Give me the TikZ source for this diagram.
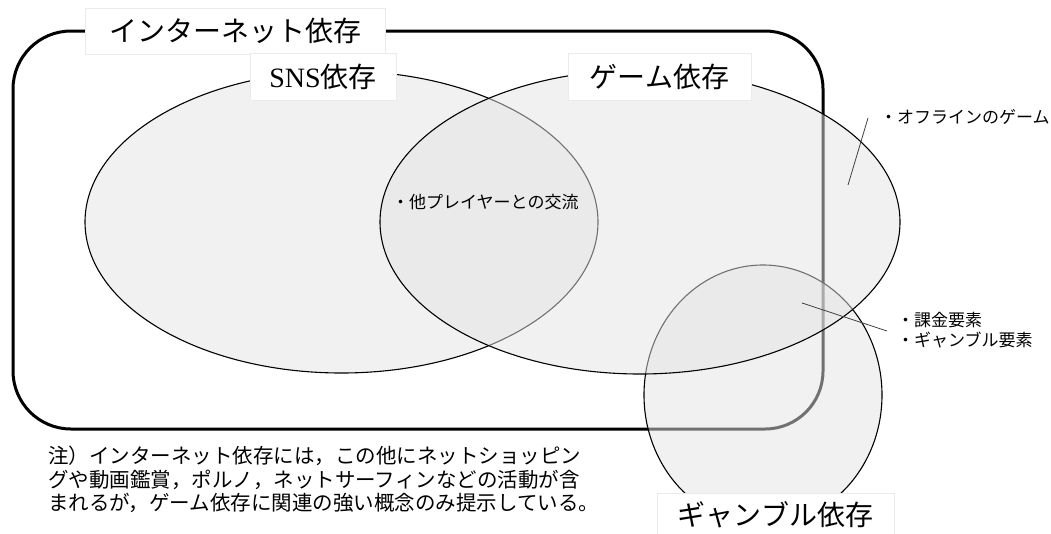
\documentclass[tikz,border=0pt]{standalone}
\usepackage{fontspec}
\setmainfont{Liberation Serif}
\newfontfamily\jp{Noto Sans CJK JP}
\usetikzlibrary{shapes.geometric}
\begin{document}
\begin{tikzpicture}[x=1pt,y=-1pt,
  setfill/.style={ellipse, draw=black, line width=1.1pt, fill=black!11, fill opacity=0.5, inner sep=0pt},
  outer/.style={draw=black, line width=3pt, rounded corners=58pt, inner sep=0pt},
  lbl/.style={fill=white, draw=black!8, line width=0.6pt, inner sep=0pt, font=\jp\fontsize{28}{32}\selectfont},
  small/.style={font=\jp\fontsize{17}{20}\selectfont, inner sep=0pt, align=left},
  notetext/.style={font=\jp\fontsize{20.5}{23.5}\selectfont, inner sep=0pt, align=left},
  pointer/.style={draw=black!75, line width=0.8pt}
]
\useasboundingbox (0,0) rectangle (1051,533);
% internet dependence frame
\node[outer, minimum width=810pt, minimum height=398pt] (net) at (418,230) {};
% sets
\node[setfill, minimum width=238pt, minimum height=260pt] (gamb) at (763,395) {};
\node[setfill, minimum width=513pt, minimum height=302pt] (sns) at (341.5,222) {};
\node[setfill, minimum width=520pt, minimum height=304pt] (game) at (640,222) {};
% pointer lines
\coordinate (o1) at (868,118);
\coordinate (o2) at (848,185);
\coordinate (k1) at (802,303);
\coordinate (k2) at (887,331);
\draw[pointer] (o1) -- (o2);
\draw[pointer] (k1) -- (k2);
% labels
\node[lbl, minimum width=300pt, minimum height=46pt] (lnet) at (235,31) {インターネット依存};
\node[lbl, minimum width=146pt, minimum height=47pt] (lsns) at (323,77) {{\rmfamily SNS}依存};
\node[lbl, minimum width=183pt, minimum height=47pt] (lgame) at (659.5,77) {ゲーム依存};
\node[lbl, minimum width=237pt, minimum height=44pt] (lgamb) at (775.5,515) {ギャンブル依存};
% small texts
\node[small, anchor=west] (tother) at (392,202) {・他プレイヤーとの交流};
\node[small, anchor=west] (toff) at (880,117) {・オフラインのゲーム};
\node[small, anchor=west] (tkakin) at (897,330) {・課金要素\\・ギャンブル要素};
% note
\node[notetext, anchor=north west] (note) at (48,446) {注）インターネット依存には，この他にネットショッピン\\グや動画鑑賞，ポルノ，ネットサーフィンなどの活動が含\\まれるが，ゲーム依存に関連の強い概念のみ提示している。};
\end{tikzpicture}
\end{document}
